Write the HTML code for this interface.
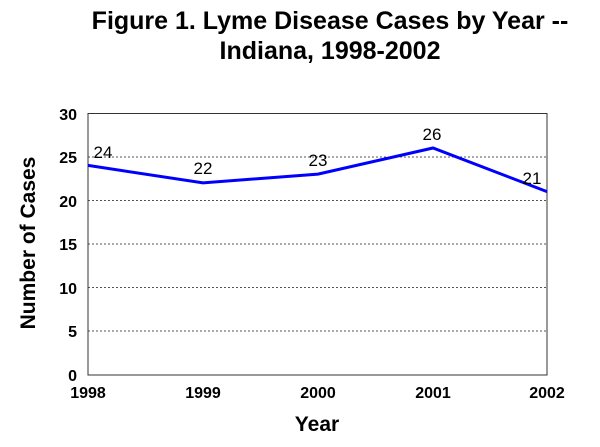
<!DOCTYPE html>
<html><head><style>body{margin:0;background:#fff}</style></head><body>
<svg width="600" height="442" xmlns="http://www.w3.org/2000/svg" font-family="Liberation Sans, Arial, sans-serif">
<rect width="600" height="442" fill="#fff"/>
<text x="330" y="29" text-anchor="middle" font-size="25" font-weight="bold">Figure 1. Lyme Disease Cases by Year --</text>
<text x="330" y="59" text-anchor="middle" font-size="25" font-weight="bold">Indiana, 1998-2002</text>
<g stroke="#555" stroke-width="1" stroke-dasharray="2,2">
<line x1="88" y1="157" x2="547" y2="157"/>
<line x1="88" y1="200.5" x2="547" y2="200.5"/>
<line x1="88" y1="244" x2="547" y2="244"/>
<line x1="88" y1="287.5" x2="547" y2="287.5"/>
<line x1="88" y1="331" x2="547" y2="331"/>
</g>
<rect x="88" y="113.5" width="459" height="261.5" fill="none" stroke="#333" stroke-width="1"/>
<g font-size="16" font-weight="bold" text-anchor="end">
<text x="77" y="120">30</text><text x="77" y="163">25</text><text x="77" y="207">20</text>
<text x="77" y="250">15</text><text x="77" y="294">10</text><text x="77" y="337">5</text><text x="77" y="381">0</text>
</g>
<g font-size="16" font-weight="bold" text-anchor="middle">
<text x="88" y="398">1998</text><text x="203" y="398">1999</text><text x="318" y="398">2000</text>
<text x="433" y="398">2001</text><text x="547" y="398">2002</text>
</g>
<text x="317" y="431" text-anchor="middle" font-size="21" font-weight="bold">Year</text>
<text transform="translate(35,243) rotate(-90)" text-anchor="middle" font-size="21" font-weight="bold">Number of Cases</text>
<polyline points="88,165.4 203,182.9 318,174.1 433,148 547,191.6" fill="none" stroke="#0000ff" stroke-width="3"/>
<g font-size="17" text-anchor="middle">
<text x="103" y="158">24</text><text x="203" y="174">22</text><text x="318" y="166">23</text>
<text x="432" y="140">26</text><text x="532" y="184">21</text>
</g>
</svg>
</body></html>
